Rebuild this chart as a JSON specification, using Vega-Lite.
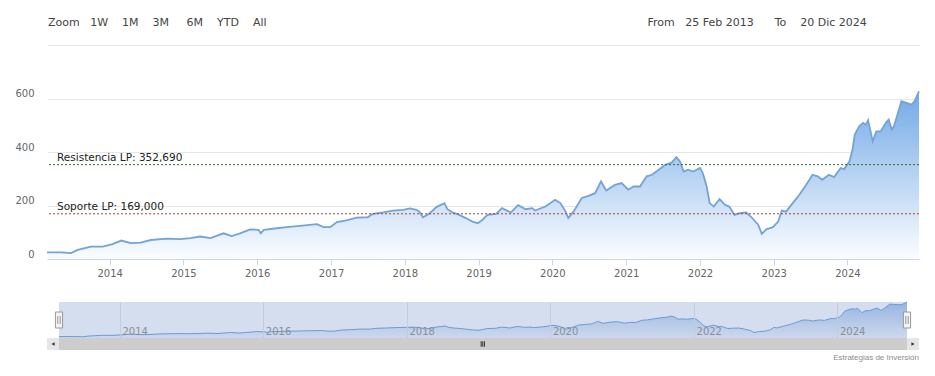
{
  "$schema": "https://vega.github.io/schema/vega-lite/v6.json",
  "padding": {"left": 14, "top": 17, "right": 5, "bottom": 5},
  "background": "white",
  "bounds": "flush",
  "spacing": 43,
  "title": {
    "text": "Zoom\u00a0\u00a0\u00a01W\u00a0\u00a0\u00a0\u00a01M\u00a0\u00a0\u00a0\u00a03M\u00a0\u00a0\u00a0\u00a0\u00a06M\u00a0\u00a0\u00a0\u00a0YTD\u00a0\u00a0\u00a0\u00a0All\u2003\u2003\u2003\u2003\u2003\u2003\u2003\u2003\u2003\u2003\u2003\u2003\u2003\u2003\u2003\u2003\u2003\u2003\u2003\u2003\u2003\u2003\u2003\u2003\u2003\u2003\u2003\u2003\u2003\u2003\u2003\u2003\u2003\u2003\u00a0\u00a0From\u00a0\u00a0\u00a025 Feb 2013\u00a0\u00a0\u00a0\u00a0\u00a0\u00a0To\u00a0\u00a0\u00a0\u00a020 Dic 2024",
    "anchor": "start",
    "frame": "group",
    "font": "DejaVu Sans",
    "fontSize": 11,
    "fontWeight": "normal",
    "color": "#444444",
    "offset": 17,
    "dx": 1
  },
  "datasets": {
    "price": [
      {"date": "2013-02-25", "value": 25},
      {"date": "2013-05-08", "value": 25},
      {"date": "2013-06-24", "value": 22},
      {"date": "2013-07-27", "value": 34},
      {"date": "2013-10-01", "value": 46},
      {"date": "2013-11-28", "value": 46},
      {"date": "2014-01-15", "value": 56},
      {"date": "2014-02-28", "value": 69},
      {"date": "2014-04-15", "value": 59},
      {"date": "2014-06-03", "value": 61},
      {"date": "2014-07-24", "value": 71},
      {"date": "2014-10-12", "value": 76},
      {"date": "2014-12-16", "value": 74},
      {"date": "2015-02-06", "value": 78},
      {"date": "2015-03-25", "value": 84},
      {"date": "2015-05-15", "value": 78},
      {"date": "2015-07-19", "value": 96},
      {"date": "2015-08-28", "value": 86},
      {"date": "2015-10-08", "value": 96},
      {"date": "2015-11-28", "value": 111},
      {"date": "2016-01-08", "value": 109},
      {"date": "2016-01-19", "value": 96},
      {"date": "2016-02-03", "value": 109},
      {"date": "2016-04-08", "value": 115},
      {"date": "2016-05-26", "value": 119},
      {"date": "2016-07-31", "value": 124},
      {"date": "2016-10-23", "value": 130},
      {"date": "2016-11-25", "value": 119},
      {"date": "2016-12-28", "value": 119},
      {"date": "2017-01-30", "value": 138},
      {"date": "2017-03-18", "value": 144},
      {"date": "2017-05-08", "value": 155},
      {"date": "2017-07-01", "value": 156},
      {"date": "2017-07-27", "value": 169},
      {"date": "2017-09-17", "value": 174},
      {"date": "2017-11-03", "value": 181},
      {"date": "2017-12-24", "value": 184},
      {"date": "2018-01-26", "value": 189},
      {"date": "2018-02-28", "value": 184},
      {"date": "2018-03-14", "value": 177},
      {"date": "2018-04-01", "value": 156},
      {"date": "2018-05-05", "value": 171},
      {"date": "2018-06-06", "value": 194},
      {"date": "2018-07-16", "value": 209},
      {"date": "2018-07-31", "value": 186},
      {"date": "2018-08-25", "value": 174},
      {"date": "2018-09-27", "value": 165},
      {"date": "2018-10-30", "value": 153},
      {"date": "2018-12-02", "value": 140},
      {"date": "2018-12-28", "value": 134},
      {"date": "2019-01-19", "value": 146},
      {"date": "2019-02-14", "value": 165},
      {"date": "2019-03-29", "value": 169},
      {"date": "2019-04-27", "value": 190},
      {"date": "2019-06-10", "value": 174},
      {"date": "2019-07-16", "value": 201},
      {"date": "2019-08-22", "value": 186},
      {"date": "2019-09-24", "value": 190},
      {"date": "2019-10-08", "value": 181},
      {"date": "2019-11-28", "value": 196},
      {"date": "2020-01-15", "value": 221},
      {"date": "2020-02-10", "value": 209},
      {"date": "2020-03-07", "value": 177},
      {"date": "2020-03-20", "value": 153},
      {"date": "2020-04-15", "value": 177},
      {"date": "2020-05-26", "value": 228},
      {"date": "2020-06-28", "value": 236},
      {"date": "2020-07-31", "value": 246},
      {"date": "2020-08-29", "value": 290},
      {"date": "2020-09-24", "value": 256},
      {"date": "2020-11-06", "value": 277},
      {"date": "2020-12-09", "value": 284},
      {"date": "2021-01-11", "value": 259},
      {"date": "2021-02-06", "value": 271},
      {"date": "2021-03-10", "value": 271},
      {"date": "2021-04-12", "value": 309},
      {"date": "2021-05-08", "value": 315},
      {"date": "2021-05-30", "value": 327},
      {"date": "2021-07-13", "value": 352},
      {"date": "2021-08-15", "value": 361},
      {"date": "2021-09-06", "value": 381},
      {"date": "2021-09-24", "value": 365},
      {"date": "2021-10-12", "value": 327},
      {"date": "2021-11-03", "value": 334},
      {"date": "2021-11-28", "value": 327},
      {"date": "2022-01-01", "value": 340},
      {"date": "2022-01-15", "value": 321},
      {"date": "2022-02-03", "value": 271},
      {"date": "2022-02-18", "value": 209},
      {"date": "2022-03-10", "value": 196},
      {"date": "2022-04-08", "value": 224},
      {"date": "2022-05-05", "value": 202},
      {"date": "2022-05-26", "value": 196},
      {"date": "2022-06-21", "value": 165},
      {"date": "2022-07-16", "value": 171},
      {"date": "2022-08-18", "value": 174},
      {"date": "2022-09-13", "value": 156},
      {"date": "2022-10-16", "value": 128},
      {"date": "2022-11-03", "value": 94},
      {"date": "2022-11-25", "value": 111},
      {"date": "2022-12-28", "value": 119},
      {"date": "2023-01-23", "value": 140},
      {"date": "2023-02-10", "value": 181},
      {"date": "2023-03-03", "value": 177},
      {"date": "2023-04-05", "value": 209},
      {"date": "2023-05-08", "value": 240},
      {"date": "2023-06-10", "value": 277},
      {"date": "2023-07-12", "value": 315},
      {"date": "2023-08-07", "value": 309},
      {"date": "2023-08-29", "value": 296},
      {"date": "2023-10-01", "value": 315},
      {"date": "2023-10-27", "value": 306},
      {"date": "2023-11-28", "value": 340},
      {"date": "2023-12-16", "value": 336},
      {"date": "2024-01-11", "value": 365},
      {"date": "2024-01-26", "value": 409},
      {"date": "2024-02-06", "value": 465},
      {"date": "2024-02-28", "value": 496},
      {"date": "2024-03-18", "value": 509},
      {"date": "2024-04-01", "value": 502},
      {"date": "2024-04-12", "value": 519},
      {"date": "2024-05-05", "value": 440},
      {"date": "2024-05-23", "value": 477},
      {"date": "2024-06-13", "value": 477},
      {"date": "2024-07-09", "value": 509},
      {"date": "2024-07-23", "value": 521},
      {"date": "2024-08-07", "value": 484},
      {"date": "2024-08-18", "value": 496},
      {"date": "2024-09-02", "value": 534},
      {"date": "2024-09-24", "value": 590},
      {"date": "2024-10-19", "value": 584},
      {"date": "2024-11-14", "value": 577},
      {"date": "2024-11-28", "value": 590},
      {"date": "2024-12-20", "value": 627}
    ],
    "levels": [
      {"name": "Resistencia LP", "value": 352.69, "label": "Resistencia LP: 352,690"},
      {"name": "Soporte LP", "value": 169, "label": "Soporte LP: 169,000"}
    ]
  },
  "vconcat": [
    {
      "width": 872,
      "height": 214,
      "layer": [
        {
          "data": {"name": "price"},
          "mark": {
            "type": "area",
            "color": {
              "gradient": "linear",
              "x1": 0, "y1": 0, "x2": 0, "y2": 1,
              "stops": [
                {"offset": 0, "color": "#72a9e6"},
                {"offset": 1, "color": "#fbfdff"}
              ]
            }
          },
          "encoding": {
            "x": {
              "field": "date", "type": "temporal",
              "scale": {"domain": [{"year": 2013, "month": 2, "date": 25}, {"year": 2024, "month": 12, "date": 20}]},
              "axis": {
                "title": null, "format": "%Y",
                "tickCount": {"interval": "year", "step": 1},
                "grid": false, "domainColor": "#ccd6eb", "tickColor": "#ccd6eb",
                "tickSize": 6, "labelPadding": 3, "labelFont": "DejaVu Sans",
                "labelFontSize": 10, "labelColor": "#666666", "labelFlush": false,
                "labelAlign": "center"
              }
            },
            "y": {
              "field": "value", "type": "quantitative",
              "scale": {"domain": [0, 800], "nice": false},
              "axis": {
                "title": null, "values": [0, 200, 400, 600, 800],
                "labelExpr": "datum.value == 800 ? '' : datum.label",
                "domain": false, "ticks": false, "grid": true, "gridColor": "#e6e6e6",
                "labelPadding": 13, "labelBaseline": "alphabetic", "labelOffset": -2,
                "labelFont": "DejaVu Sans", "labelFontSize": 10, "labelColor": "#666666"
              }
            }
          }
        },
        {
          "data": {"name": "price"},
          "mark": {"type": "line", "color": "#74a3d6", "strokeWidth": 1.8},
          "encoding": {
            "x": {"field": "date", "type": "temporal"},
            "y": {"field": "value", "type": "quantitative"}
          }
        },
        {
          "data": {"name": "levels"},
          "mark": {"type": "rule", "strokeDash": [2, 2], "strokeWidth": 1},
          "encoding": {
            "y": {"field": "value", "type": "quantitative"},
            "color": {
              "field": "name", "type": "nominal",
              "scale": {"domain": ["Resistencia LP", "Soporte LP"], "range": ["#2f6b2f", "#b23c3c"]},
              "legend": null
            }
          }
        },
        {
          "data": {"name": "levels"},
          "mark": {
            "type": "text", "align": "left", "baseline": "alphabetic",
            "dx": 10, "dy": -4, "font": "DejaVu Sans", "fontSize": 10.5, "color": "#222222"
          },
          "encoding": {
            "x": {"datum": {"year": 2013, "month": 2, "date": 25}, "type": "temporal"},
            "y": {"field": "value", "type": "quantitative"},
            "text": {"field": "label"}
          }
        }
      ]
    },
    {
      "bounds": "flush",
      "spacing": 0,
      "vconcat": [
        {
          "width": 872,
          "height": 36,
          "layer": [
            {
              "data": {"values": [{}]},
              "mark": {"type": "rect", "color": "#d5deee"},
              "encoding": {
                "x": {
                  "datum": {"year": 2013, "month": 2, "date": 25}, "type": "temporal",
                  "scale": {"domain": [{"year": 2013, "month": 2, "date": 25}, {"year": 2024, "month": 12, "date": 20}], "padding": 12},
                  "axis": {
                    "orient": "bottom", "title": null, "format": "%Y",
                    "tickCount": {"interval": "year", "step": 2},
                    "grid": true, "gridColor": "#c3cbdc", "domain": false, "ticks": false,
                    "labelAlign": "left", "labelBaseline": "bottom", "labelPadding": -2,
                    "labelOffset": 2, "labelFont": "DejaVu Sans", "labelFontSize": 10,
                    "labelColor": "#8a8f99", "labelFlush": false, "zindex": 1
                  }
                },
                "x2": {"datum": {"year": 2024, "month": 12, "date": 20}}
              }
            },
            {
              "data": {"name": "price"},
              "mark": {
                "type": "area",
                "line": {"color": "#6a9bd8", "strokeWidth": 1},
                "color": {
                  "gradient": "linear",
                  "x1": 0, "y1": 0, "x2": 0, "y2": 1,
                  "stops": [
                    {"offset": 0, "color": "rgba(95,145,215,0.8)"},
                    {"offset": 1, "color": "rgba(120,160,220,0.15)"}
                  ]
                }
              },
              "encoding": {
                "x": {"field": "date", "type": "temporal"},
                "y": {"field": "value", "type": "quantitative", "scale": {"domain": [0, 627], "nice": false}, "axis": null}
              }
            },
            {
              "data": {"values": [{}]},
              "mark": {"type": "point", "shape": "M-0.45,-1H0.45V1H-0.45Z M-0.15,-0.5V0.5 M0.15,-0.5V0.5", "filled": false, "fill": "#f2f2f2", "stroke": "#999999", "strokeWidth": 1, "size": 256, "opacity": 1},
              "encoding": {"x": {"datum": {"year": 2013, "month": 2, "date": 25}, "type": "temporal"}}
            },
            {
              "data": {"values": [{}]},
              "mark": {"type": "point", "shape": "M-0.45,-1H0.45V1H-0.45Z M-0.15,-0.5V0.5 M0.15,-0.5V0.5", "filled": false, "fill": "#f2f2f2", "stroke": "#999999", "strokeWidth": 1, "size": 256, "opacity": 1},
              "encoding": {"x": {"datum": {"year": 2024, "month": 12, "date": 20}, "type": "temporal"}}
            }
          ]
        },
        {
          "width": 872,
          "height": 12,
          "view": {"fill": "#e6e6e6", "stroke": null},
          "title": {
            "text": "Estrategias de Inversión", "orient": "bottom", "anchor": "end", "frame": "group",
            "font": "Liberation Sans", "fontSize": 8, "fontWeight": "normal", "color": "#8c8c8c", "offset": 4
          },
          "data": {"values": [{}]},
          "layer": [
            {
              "mark": {"type": "rect", "color": "#cdcdcd"},
              "encoding": {
                "x": {
                  "datum": {"year": 2013, "month": 2, "date": 25}, "type": "temporal",
                  "scale": {"domain": [{"year": 2013, "month": 2, "date": 25}, {"year": 2024, "month": 12, "date": 20}], "padding": 12},
                  "axis": null
                },
                "x2": {"datum": {"year": 2024, "month": 12, "date": 20}}
              }
            },
            {
              "mark": {"type": "point", "shape": "triangle-left", "filled": true, "color": "#333333", "size": 14, "xOffset": -6, "opacity": 1},
              "encoding": {"x": {"datum": {"year": 2013, "month": 2, "date": 25}, "type": "temporal"}}
            },
            {
              "mark": {"type": "point", "shape": "triangle-right", "filled": true, "color": "#333333", "size": 14, "xOffset": 6, "opacity": 1},
              "encoding": {"x": {"datum": {"year": 2024, "month": 12, "date": 20}, "type": "temporal"}}
            },
            {
              "mark": {"type": "point", "shape": "M-0.6,-1V1M0,-1V1M0.6,-1V1", "filled": false, "stroke": "#333333", "strokeWidth": 1, "size": 30, "opacity": 1},
              "encoding": {"x": {"datum": {"year": 2019, "month": 1, "date": 22}, "type": "temporal"}}
            }
          ]
        }
      ]
    }
  ],
  "config": {
    "view": {"stroke": null},
    "font": "DejaVu Sans"
  }
}
